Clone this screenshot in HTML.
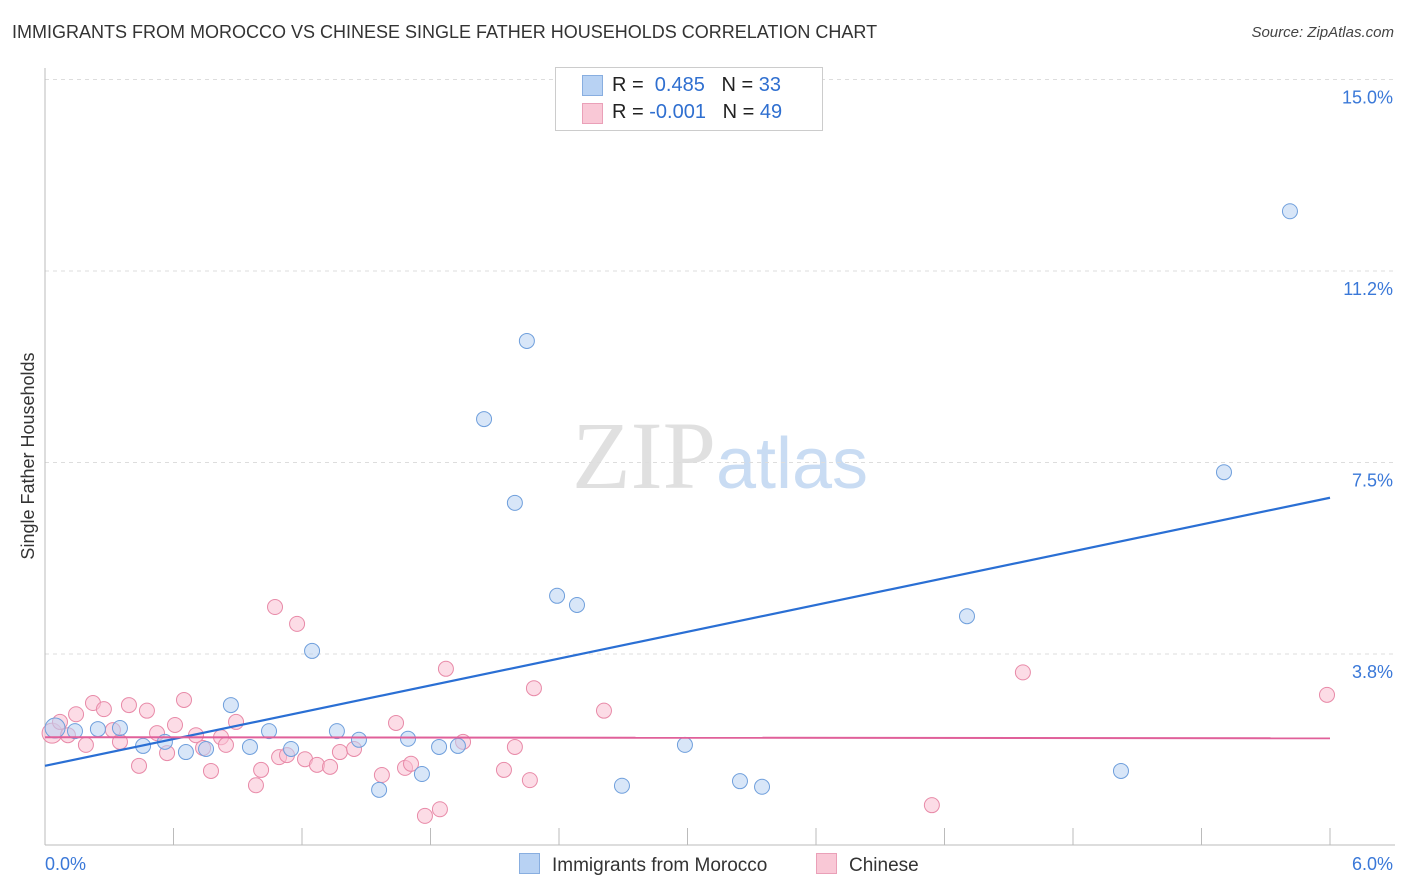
<!DOCTYPE html>
<html><head><meta charset="utf-8"><style>
body{margin:0;background:#fff;font-family:"Liberation Sans",sans-serif;}
#wrap{position:relative;width:1406px;height:892px;overflow:hidden;}
.t{position:absolute;white-space:nowrap;}
</style></head><body>
<div id="wrap">
<div class="t" style="left:12px;top:22px;font-size:18px;color:#333;">IMMIGRANTS FROM MOROCCO VS CHINESE SINGLE FATHER HOUSEHOLDS CORRELATION CHART</div>
<div class="t" style="right:12px;top:24px;font-size:15px;color:#444;font-style:italic;">Source: ZipAtlas.com</div>
<svg id="svg" width="1406" height="892" style="position:absolute;left:0;top:0">
<text x="720" y="488" text-anchor="middle" font-family="Liberation Serif" font-size="96" fill="#e0e0e0">ZIP<tspan font-family="Liberation Sans" font-size="72" fill="#c9dcf3">atlas</tspan></text>
<text transform="translate(34,456) rotate(-90)" text-anchor="middle" font-size="18" fill="#333">Single Father Households</text>
</svg>
<div class="t" style="left:555px;top:67px;width:266px;height:62px;border:1px solid #ccc;background:#fff;"></div>
<div class="t" style="left:582px;top:75px;width:19px;height:19px;background:#b8d2f3;border:1px solid #88aee0;"></div>
<div class="t" style="left:582px;top:103px;width:19px;height:19px;background:#f9c8d6;border:1px solid #eaa0b8;"></div>
<div class="t" style="left:612px;top:74px;font-size:20px;color:#222;">R = &nbsp;<span style="color:#2f6fd0">0.485</span>&nbsp;&nbsp;&nbsp;N = <span style="color:#2f6fd0">33</span></div>
<div class="t" style="left:612px;top:101px;font-size:20px;color:#222;">R = <span style="color:#2f6fd0">-0.001</span>&nbsp;&nbsp;&nbsp;N = <span style="color:#2f6fd0">49</span></div>
<div class="t" style="left:519px;top:853px;font-size:19px;color:#333;"><span style="display:inline-block;width:19px;height:19px;background:#b8d2f3;border:1px solid #88aee0;vertical-align:-3px;margin-right:12px"></span>Immigrants from Morocco</div>
<div class="t" style="left:816px;top:853px;font-size:19px;color:#333;"><span style="display:inline-block;width:19px;height:19px;background:#f9c8d6;border:1px solid #eaa0b8;vertical-align:-3px;margin-right:12px"></span>Chinese</div>
</div>
<script>
const xTickLabels=["0.0%","6.0%"];
const yTickValues=[3.75,7.5,11.25,15];
const yTickLabels=["3.8%","7.5%","11.2%","15.0%"];
const blueX=[0.047,0.140,0.247,0.350,0.458,0.560,0.658,0.752,0.868,0.957,1.046,1.149,1.247,1.363,1.466,1.560,1.695,1.760,1.840,1.928,2.050,2.194,2.250,2.391,2.484,2.694,2.988,3.245,3.348,4.305,5.024,5.505,5.813];
const blueY=[2.30,2.24,2.28,2.30,1.95,2.03,1.83,1.89,2.75,1.93,2.24,1.89,3.81,2.24,2.07,1.09,2.09,1.40,1.93,1.95,8.35,6.71,9.88,4.89,4.71,1.17,1.97,1.26,1.15,4.49,1.46,7.31,12.42];
const pinkX=[0.033,0.070,0.107,0.145,0.191,0.224,0.275,0.317,0.350,0.392,0.439,0.476,0.523,0.570,0.607,0.649,0.705,0.738,0.775,0.822,0.845,0.892,0.985,1.009,1.074,1.093,1.130,1.177,1.214,1.270,1.331,1.377,1.443,1.573,1.639,1.681,1.709,1.774,1.844,1.872,1.952,2.143,2.194,2.264,2.283,2.610,4.141,4.566,5.986];
const pinkY=[2.20,2.42,2.16,2.57,1.97,2.79,2.67,2.26,2.03,2.75,1.56,2.64,2.20,1.81,2.36,2.85,2.16,1.91,1.46,2.12,1.97,2.42,1.18,1.48,4.67,1.73,1.77,4.34,1.69,1.58,1.54,1.83,1.89,1.38,2.40,1.52,1.60,0.58,0.71,3.46,2.03,1.48,1.93,1.28,3.08,2.64,0.79,3.39,2.95];
const blueTrend=[1.56,6.81];
const pinkTrend=[2.12,2.10];
const NS="http://www.w3.org/2000/svg";
const svg=document.getElementById('svg');
const X0=45,X1=1330,Y0=845.5,YS=191.5/3.75;
const sx=v=>X0+v/6*(X1-X0);
const sy=v=>Y0-v*YS;
function mk(t,a){const e=document.createElementNS(NS,t);for(const k in a)e.setAttribute(k,a[k]);svg.appendChild(e);return e;}
yTickValues.forEach((v,i)=>{
 const g=mk('line',{x1:45,x2:1395,y1:sy(v),y2:sy(v),stroke:'#ddd','stroke-dasharray':'4,4'});
 
 
 const t=mk('text',{x:1393,y:sy(v)+24,'text-anchor':'end','font-size':18,fill:'#3a78d8'});
 t.textContent=yTickLabels[i];
 
 
});
const ax=mk('line',{x1:45,x2:1395,y1:845,y2:845,stroke:'#bbb'});


const ay=mk('line',{x1:45,x2:45,y1:68,y2:845,stroke:'#bbb'});


for(let i=0;i<=10;i++){const tk=mk('line',{x1:sx(i*0.6),x2:sx(i*0.6),y1:828,y2:845,stroke:'#bbb'});
 
 }
[[0,xTickLabels[0],'start',45],[6,xTickLabels[1],'end',1393]].forEach(d=>{
 const t=mk('text',{x:d[3],y:870,'text-anchor':d[2],'font-size':18,fill:'#3a78d8'});t.textContent=d[1];
 
 
});
function pts(xs,ys,fill,stroke,name){xs.forEach((x,i)=>{const c=mk('circle',{cx:sx(x),cy:sy(ys[i]),r:i==0?10:7.5,fill:fill,'fill-opacity':0.55,stroke:stroke,'stroke-width':1});
 
 });}
pts(pinkX,pinkY,'#f9c0d2','#e88aa8','chinese-point');
pts(blueX,blueY,'#b8d2f3','#6f9fdc','morocco-point');
const bl=mk('line',{x1:sx(0),y1:sy(blueTrend[0]),x2:sx(6),y2:sy(blueTrend[1]),stroke:'#2a6fd4','stroke-width':2.2});


const pl=mk('line',{x1:sx(0),y1:sy(pinkTrend[0]),x2:sx(6),y2:sy(pinkTrend[1]),stroke:'#e0609a','stroke-width':2});


</script>
</body></html>
